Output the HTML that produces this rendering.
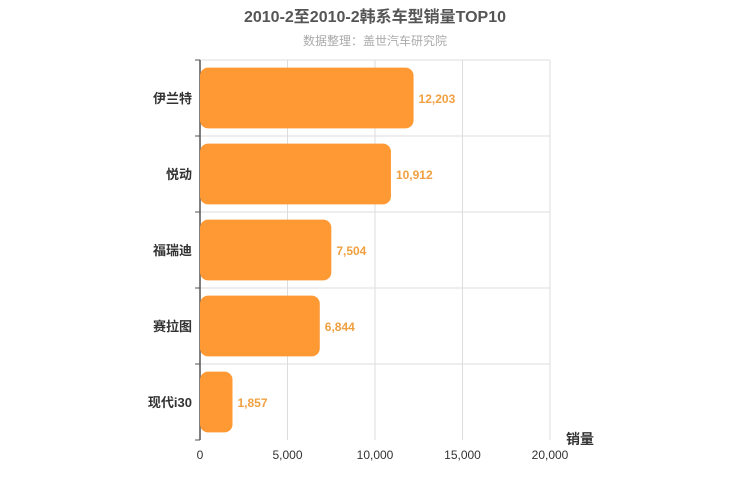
<!DOCTYPE html>
<html><head><meta charset="utf-8"><style>
body{margin:0;background:#fff;}
svg{display:block;font-family:"Liberation Sans","Noto Sans CJK SC",sans-serif;}
</style></head><body>
<svg id="c" width="750" height="500">
<text x="375" y="22" text-anchor="middle" font-size="16" font-weight="bold" fill="#555">2010-2至2010-2韩系车型销量TOP10</text>
<text x="375" y="45" text-anchor="middle" font-size="12" fill="#aaa">数据整理：盖世汽车研究院</text>
<text x="580" y="444" text-anchor="middle" font-size="14" font-weight="bold" fill="#333">销量</text>
<g id="g"></g>
</svg>
<script>
const categories=["伊兰特","悦动","福瑞迪","赛拉图","现代i30"];
const values=[12203,10912,7504,6844,1857];
const tickValues=[0,5000,10000,15000,20000];
const tickLabels=["0","5,000","10,000","15,000","20,000"];
const X0=200,X1=550,Y0=60,Y1=440,MAX=20000;
const x=v=>X0+(v/MAX)*(X1-X0);
const band=(Y1-Y0)/categories.length;
const y=i=>Y0+i*band;
const g=document.getElementById('g');
const NS='http://www.w3.org/2000/svg';
function mk(t,a){const e=document.createElementNS(NS,t);for(const k in a)e.setAttribute(k,a[k]);g.appendChild(e);return e;}
for(let i=1;i<tickValues.length;i++){
 const l=mk('line',{x1:x(tickValues[i]),x2:x(tickValues[i]),y1:Y0,y2:Y1,stroke:'#ddd'});
 
 
}
for(let i=0;i<categories.length;i++){
 const l=mk('line',{x1:X0,x2:X1,y1:y(i),y2:y(i),stroke:'#ddd'});
 
 
}
tickValues.forEach((v,i)=>{
 const t=mk('text',{x:x(v),y:Y1+19,'text-anchor':'middle','font-size':12,fill:'#333'});
 t.textContent=tickLabels[i];
 
 
});
const ax=mk('line',{x1:X0,x2:X0,y1:Y0,y2:Y1,stroke:'#555','stroke-width':1.5});


for(let i=0;i<=categories.length;i++){
 const tk=mk('line',{x1:X0-5,x2:X0,y1:y(i),y2:y(i),stroke:'#555'});
 
 
}
categories.forEach((c,i)=>{
 const cy=y(i)+band/2;
 const bh=band*0.8;
 const r=mk('rect',{x:X0,y:cy-bh/2,width:x(values[i])-X0,height:bh,rx:8,fill:'#ff9933'});
 
 
 const lt=mk('text',{x:X0-8,y:cy+5,'text-anchor':'end','font-size':13,'font-weight':'bold',fill:'#333'});
 lt.textContent=c;
 
 
 const vt=mk('text',{x:x(values[i])+5,y:cy+5,'font-size':12,'font-weight':'bold',fill:'#f0a040'});
 vt.textContent=values[i].toLocaleString('en-US');
 
 
});
</script>
</body></html>
